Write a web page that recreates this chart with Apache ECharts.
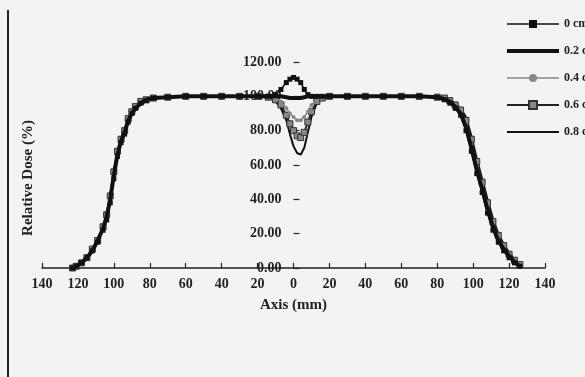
<!DOCTYPE html>
<html>
<head>
<meta charset="utf-8">
<script src="https://cdn.jsdelivr.net/npm/echarts@6/dist/echarts.min.js"></script>
<style>
html,body{margin:0;padding:0;background:#f3f3f1;}
#c{width:585px;height:377px;}
</style>
</head>
<body>
<div id="c"></div>
<script>
// Positions along the axis (mm)
var xs = [-123,-121,-118,-115,-112,-109,-106,-104,-102,-100,-98,-96,-94,-92,-90,-88,-85,-82,-78,-70,-60,-50,-40,-30,-20,-14,-10,-7,-4,-2,0,2,4,6,8,10,13,16,20,30,40,50,60,70,80,84,87,90,93,96,99,102,105,108,111,114,117,120,123,126];

var seriesNames = ['0 cm','0.2 cm','0.4 cm','0.6 cm','0.8 cm'];

var dose0  = [0,1,3,6,10,15,22,28,38,52,65,73,78,85,90,93,96,97.5,99,99.5,100,100,100,100,100,100,101,104,108,110,111,110,108,104,101,100,100,100,100,100,100,100,100,100,99.5,98,96,93,89,80,68,55,44,32,22,15,10,6,3,1];
var dose02 = [0,1,3,6,10,16,23,30,40,54,66,74,79,86,90,93,96,98,99,99.5,100,100,100,100,100,100,100,100,99.5,99,99,99,99,99.5,100,100,100,100,100,100,100,100,100,100,99.5,98.5,97,94,90,82,70,57,46,34,24,16,11,7,3.5,1];
var dose04 = [0,1,3,6,11,16,23,30,41,55,67,75,80,86,91,94,96,98,99,99.5,100,100,100,100,100,100,99,97,93,90,88,86,86,88,91,95,98,100,100,100,100,100,100,100,99.5,98.5,97,94,91,84,72,59,48,36,25,17,12,7,4,1.5];
var dose06 = [0,1,3,6,11,16,24,31,42,56,68,75,80,87,91,94,97,98,99,99.5,100,100,100,100,100,99.5,98,95,89,84,80,77,76,79,85,91,97,99,100,100,100,100,100,100,99.5,99,97.5,95,92,86,75,62,50,38,27,19,13,8,4.5,2];
var dose08 = [0,1,3,6,11,17,24,31,43,57,68,76,81,87,91,94,97,98,99,99.5,100,100,100,100,100,99.5,97,93,86,78,71,67,66,70,79,88,96,99,100,100,100,100,100,100,99.5,99,98,96,93,88,77,64,52,40,29,20,14,9,5,2];

function pairs(ys){ return xs.map(function(x,i){ return [x, ys[i]]; }); }

var FONT = 'Liberation Serif';
var GL = 42, GR = 40, W = 585;
var zeroOffset = -((W - GL - GR) / 2);
var hidden = {color: 'rgba(0,0,0,0)', borderWidth: 0, borderColor: 'rgba(0,0,0,0)'};

var chart = echarts.init(document.getElementById('c'));
chart.setOption({
  backgroundColor: '#f3f3f1',
  animation: false,
  grid: {left: GL, right: GR, top: 62, bottom: 109},
  legend: {
    orient: 'vertical', left: 500, top: 12,
    itemWidth: 52, itemHeight: 10, itemGap: 13,
    textStyle: {fontFamily: FONT, fontSize: 12, fontWeight: 'bold', color: '#222', lineHeight: 14},
    data: [
      {name: seriesNames[0], lineStyle: {width: 1.5}},
      {name: seriesNames[1], itemStyle: hidden, lineStyle: {width: 4}},
      {name: seriesNames[2], lineStyle: {width: 1.5}},
      {name: seriesNames[3], lineStyle: {width: 2}},
      {name: seriesNames[4], itemStyle: hidden, lineStyle: {width: 2}}
    ]
  },
  xAxis: {
    type: 'value', min: -140, max: 140, interval: 20,
    name: 'Axis (mm)', nameLocation: 'middle', nameGap: 30,
    nameTextStyle: {fontFamily: FONT, fontSize: 15, fontWeight: 'bold', color: '#222'},
    axisLine: {lineStyle: {color: '#222', width: 1.5}},
    axisTick: {inside: true, length: 5, lineStyle: {color: '#222', width: 1.2}},
    splitLine: {show: false},
    axisLabel: {fontFamily: FONT, fontSize: 14, fontWeight: 'bold', color: '#222', margin: 9,
      formatter: function(v){ return String(Math.abs(v)); }}
  },
  yAxis: {
    type: 'value', min: 0, max: 120, interval: 20,
    offset: zeroOffset,
    axisLine: {show: true, onZero: false, lineStyle: {color: '#222', opacity: 0}},
    axisTick: {show: true, inside: true, length: 6, lineStyle: {color: '#222', width: 1.2}},
    splitLine: {show: false},
    axisLabel: {fontFamily: FONT, fontSize: 14, fontWeight: 'bold', color: '#222', margin: 12,
      formatter: function(v){ return v.toFixed(2); }}
  },
  graphic: [
    {type: 'line', shape: {x1: 8, y1: 10, x2: 8, y2: 377}, style: {stroke: '#222', lineWidth: 2}},
    {type: 'text', x: 28, y: 178, rotation: Math.PI/2,
     style: {text: 'Relative Dose (%)', font: 'bold 15px "Liberation Serif"', fill: '#222', align: 'center', verticalAlign: 'middle'}}
  ],
  series: [
    {name: seriesNames[4], type: 'line', data: pairs(dose08), symbol: 'none',
     lineStyle: {color: '#111', width: 2}, itemStyle: {color: '#111'}, z: 2},
    {name: seriesNames[3], type: 'line', data: pairs(dose06), symbol: 'rect', symbolSize: 6,
     lineStyle: {color: '#222', width: 2}, itemStyle: {color: '#888', borderColor: '#333', borderWidth: 1}, z: 3},
    {name: seriesNames[2], type: 'line', data: pairs(dose04), symbol: 'circle', symbolSize: 4,
     lineStyle: {color: '#888', width: 1.5}, itemStyle: {color: '#888'}, z: 4},
    {name: seriesNames[1], type: 'line', data: pairs(dose02), symbol: 'none',
     lineStyle: {color: '#111', width: 4}, itemStyle: {color: '#111'}, z: 5},
    {name: seriesNames[0], type: 'line', data: pairs(dose0), symbol: 'rect', symbolSize: 5,
     lineStyle: {color: '#111', width: 1.5}, itemStyle: {color: '#111'}, z: 6}
  ]
});
</script>
</body>
</html>
